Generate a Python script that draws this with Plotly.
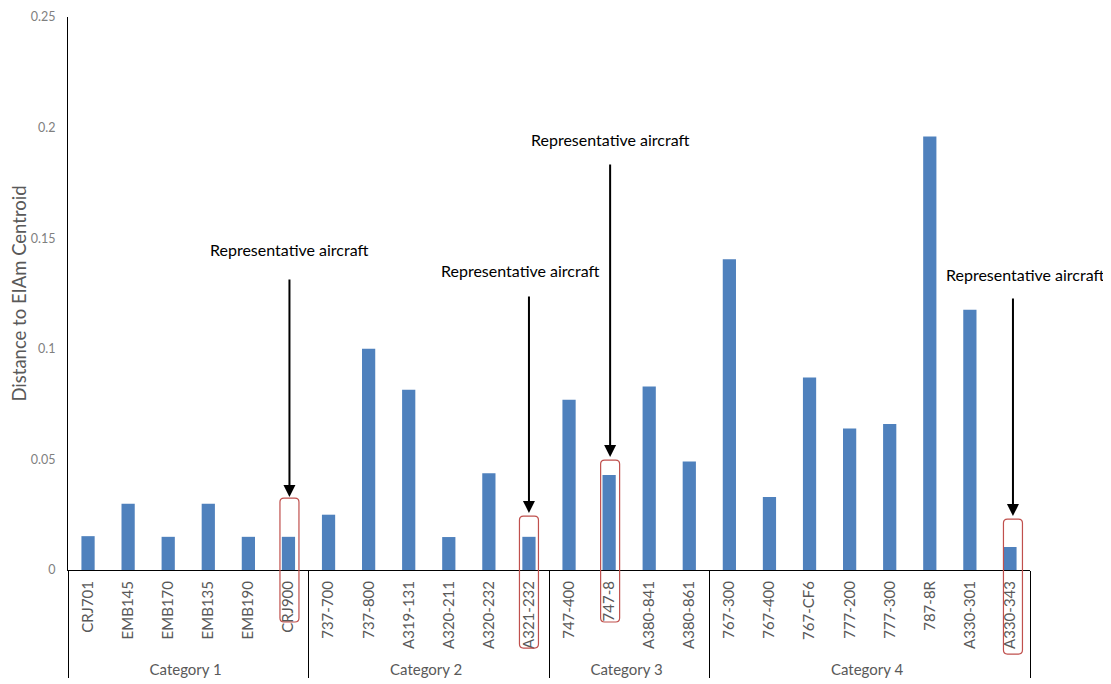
import plotly.graph_objects as go

# ---- data ----
groups = ["Category 1"] * 6 + ["Category 2"] * 6 + ["Category 3"] * 4 + ["Category 4"] * 8
aircraft = ["CRJ701", "EMB145", "EMB170", "EMB135", "EMB190", "CRJ900",
            "737-700", "737-800", "A319-131", "A320-211", "A320-232", "A321-232",
            "747-400", "747-8", "A380-841", "A380-861",
            "767-300", "767-400", "767-CF6", "777-200", "777-300", "787-8R", "A330-301", "A330-343"]
distance = [0.0153, 0.030, 0.015, 0.030, 0.015, 0.015,
            0.025, 0.100, 0.0815, 0.0149, 0.0437, 0.015,
            0.077, 0.043, 0.083, 0.049,
            0.1405, 0.033, 0.087, 0.064, 0.066, 0.196, 0.1176, 0.0104]
representative = ["CRJ900", "A321-232", "747-8", "A330-343"]
annotation_text = "Representative aircraft"

# layout helpers (styles / positions); page body has an 8px margin
BAR_COLOR = "#4F81BD"
FONT = "Lato"
YMAX = 0.25
n = len(aircraft)
L, R, T, B = 60, 81, 9, 114
W, H = 1103, 676
pw = W - L - R
ph = H - T - B
# per representative: box top / bottom (y units), arrow tail, text y, shifts
box_top = [0.0325, 0.0244, 0.0497, 0.0230]
box_bot = [-0.0235, -0.0353, -0.0235, -0.0380]
arrow_head = [0.0330, 0.0258, 0.0511, 0.0244]
arrow_tail = [0.1320, 0.1243, 0.1840, 0.1234]
text_y = [0.1451, 0.1356, 0.1944, 0.1334]
arrow_xshift = [1, 0, 1, 3]
text_xshift = [1, -8, 1, 16]

fig = go.Figure()
fig.add_trace(go.Bar(x=[groups, aircraft], y=distance, marker_color=BAR_COLOR,
                     marker_line_width=0))

shapes = []
annotations = []
for k, name in enumerate(representative):
    i = aircraft.index(name)
    cx = (i + 0.5) / n
    hw = 9.5 / pw
    rx = 4 / pw
    ry = 4 / ph
    x0, x1 = cx - hw + arrow_xshift[k] / pw, cx + hw + arrow_xshift[k] / pw
    y0, y1 = box_bot[k] / YMAX, box_top[k] / YMAX
    path = (f"M {x0+rx} {y1} L {x1-rx} {y1} Q {x1} {y1} {x1} {y1-ry} "
            f"L {x1} {y0+ry} Q {x1} {y0} {x1-rx} {y0} "
            f"L {x0+rx} {y0} Q {x0} {y0} {x0} {y0+ry} "
            f"L {x0} {y1-ry} Q {x0} {y1} {x0+rx} {y1} Z")
    shapes.append(dict(type="path", xref="paper", yref="paper", path=path,
                       line=dict(color="#C0504D", width=1.2), layer="above"))
    annotations.append(dict(xref="paper", yref="y", x=cx, y=arrow_head[k],
                            xshift=arrow_xshift[k], text="", showarrow=True,
                            axref="pixel", ayref="y", ax=0, ay=arrow_tail[k],
                            arrowhead=2, arrowsize=1.2, arrowwidth=2, arrowcolor="black"))
    annotations.append(dict(xref="paper", yref="y", x=cx, y=text_y[k], xanchor="center",
                            xshift=text_xshift[k], text=annotation_text, showarrow=False,
                            font=dict(family=FONT, size=16, color="black")))

fig.update_layout(
    width=W, height=H,
    margin=dict(l=L, r=R, t=T, b=B, pad=0, autoexpand=False),
    paper_bgcolor="white", plot_bgcolor="white",
    showlegend=False,
    bargap=0.67,
    font=dict(family=FONT, color="#595959"),
    shapes=shapes, annotations=annotations,
    xaxis=dict(type="multicategory", tickangle=-90, showline=True, linecolor="black",
               linewidth=1, showgrid=False, ticks="", ticklabelstandoff=4,
               automargin=False,
               tickfont=dict(size=15, color="#595959"),
               showdividers=True, dividercolor="black", dividerwidth=1),
    yaxis=dict(range=[0, YMAX], tickvals=[0, 0.05, 0.1, 0.15, 0.2, 0.25],
               ticktext=["0", "0.05", "0.1", "0.15", "0.2", "0.25"],
               showline=True, linecolor="black", linewidth=1, showgrid=False,
               zeroline=False, ticks="", ticklabelstandoff=9, automargin=False,
               tickfont=dict(size=12.5, color="#7F7F7F"),
               title=dict(text="Distance to EIAm Centroid", standoff=14,
                          font=dict(size=18.5, color="#595959"))),
)

fig.write_html("out.html")
